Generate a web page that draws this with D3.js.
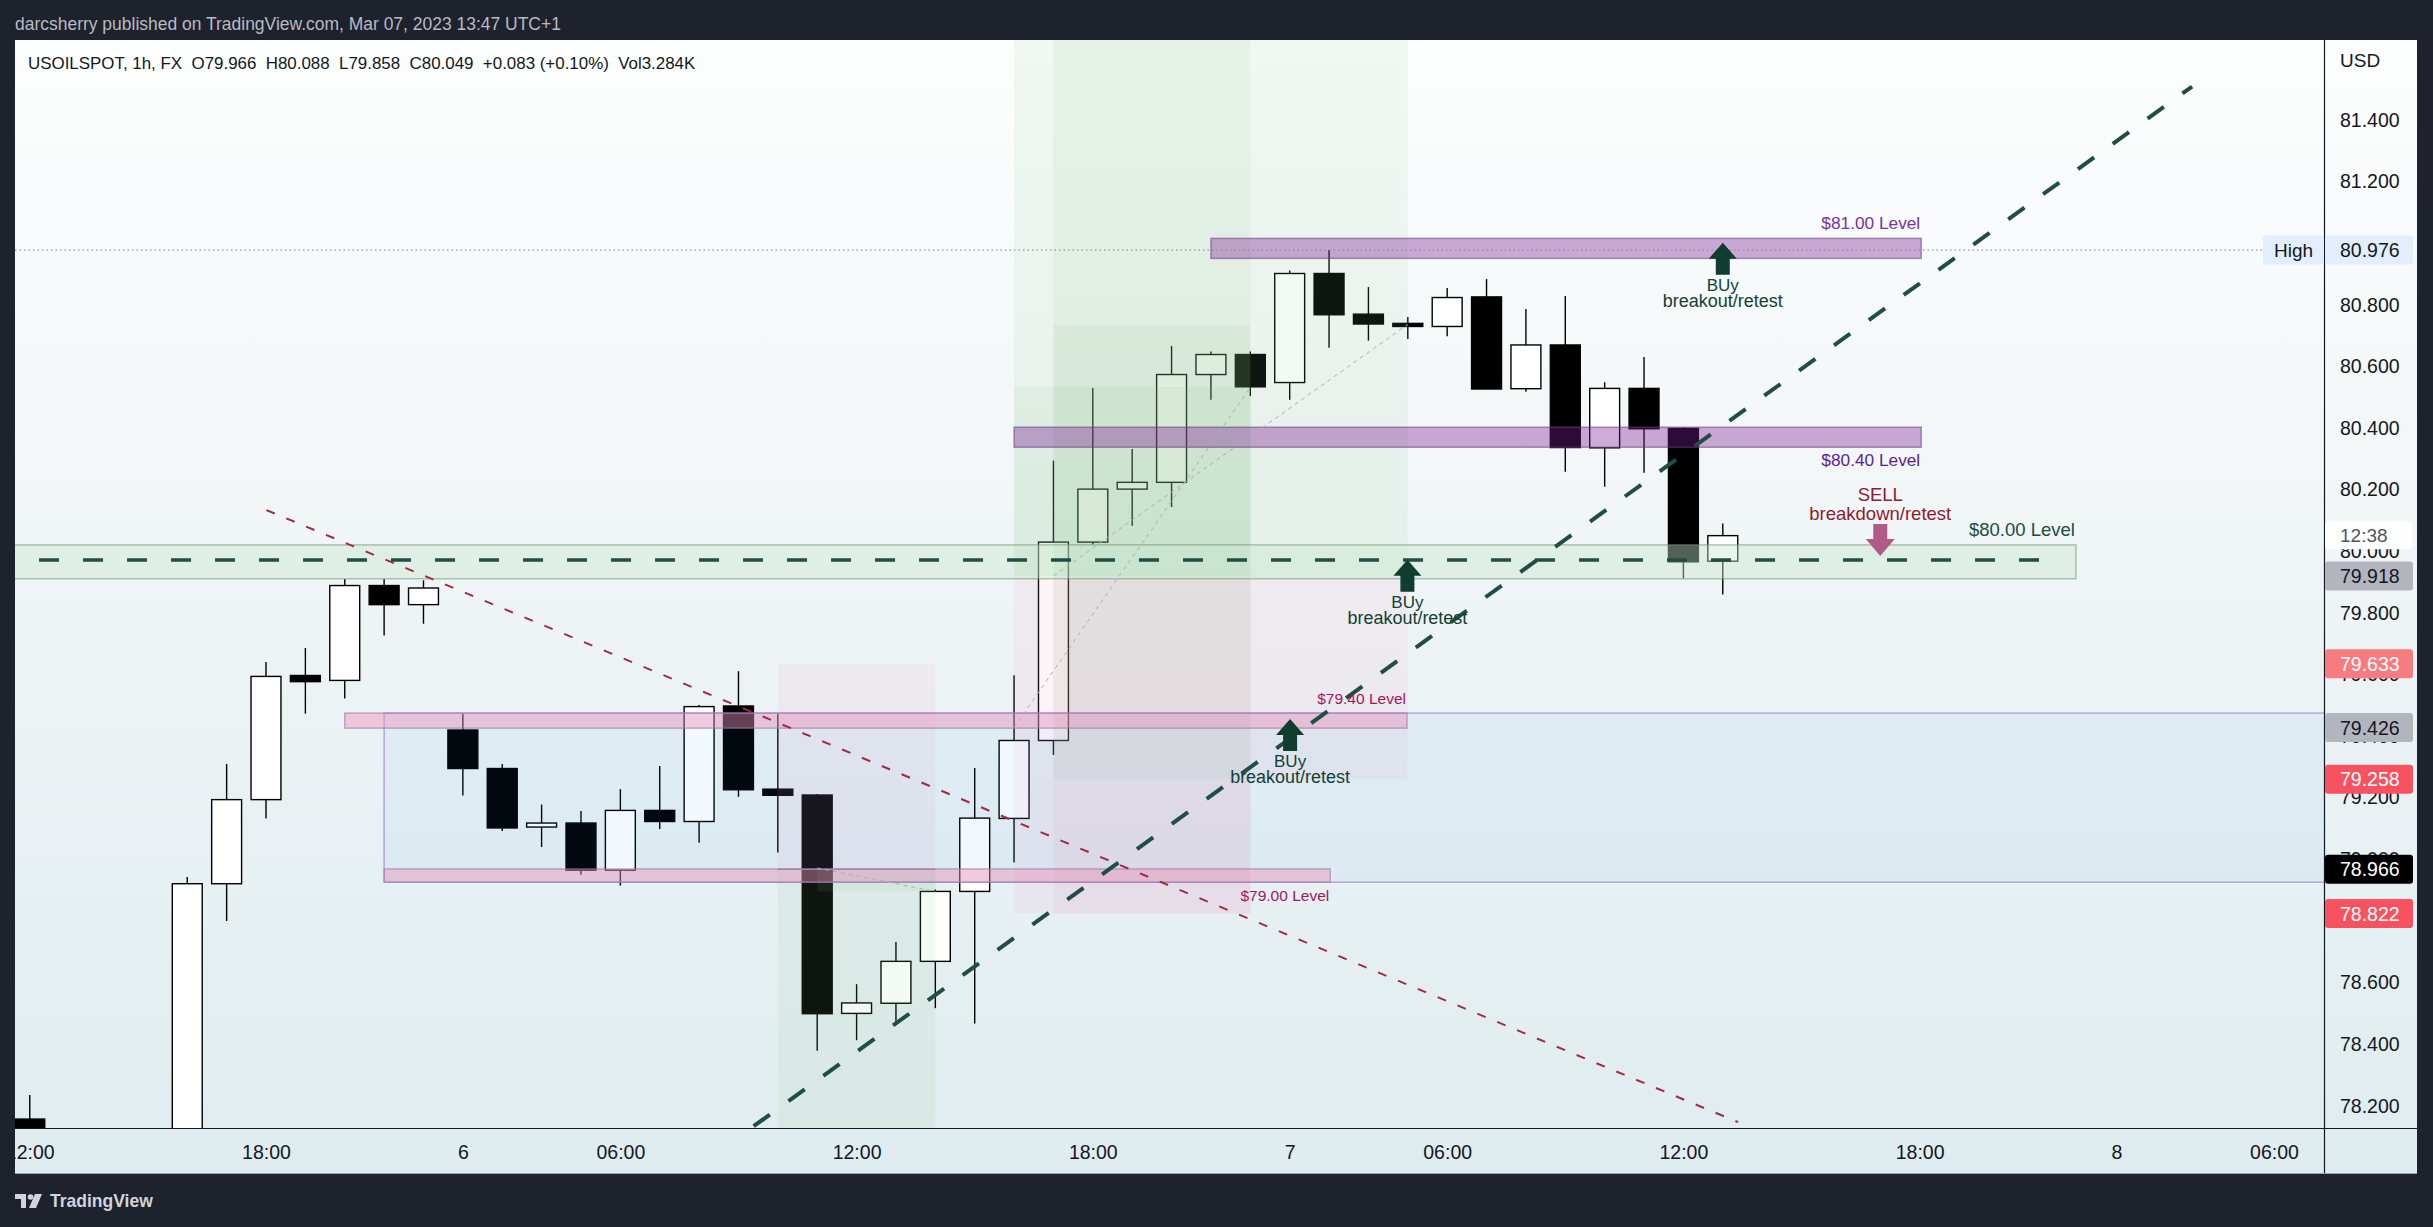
<!DOCTYPE html>
<html><head><meta charset="utf-8">
<script src="https://cdn.jsdelivr.net/npm/d3@7"></script>
<style>
html,body{margin:0;padding:0;background:#1e222d;overflow:hidden}
svg{display:block}
text{font-family:"Liberation Sans",Arial,sans-serif}
</style></head><body>
<svg id="c" width="2433" height="1227"></svg>
<script>
// ================= DATA =================
const titleText = "darcsherry published on TradingView.com, Mar 07, 2023 13:47 UTC+1";
const symbolInfo = ["USOILSPOT", "1h", "FX"];
const lastOHLC = {o: "79.966", h: "80.088", l: "79.858", c: "80.049", chg: "+0.083", pct: "(+0.10%)", vol: "3.284K"};

// bar slot index (0 = Mar 5 18:00); hourly bars
const barIdx = [-6,-2,-1,0,1,2,3,4,5,6,7,8,9,10,11,12,13,14,15,16,17,18,19,20,21,22,23,24,25,26,27,28,29,30,31,32,33,34,35,36,37];
const openP  = [78.155,77.90,78.919,79.192,79.595,79.579,79.887,79.825,79.418,79.293,79.103,79.116,78.963,79.157,79.121,79.496,79.226,79.207,78.498,78.531,78.667,78.894,79.131,79.384,80.028,80.200,80.222,80.572,80.637,80.546,80.900,80.768,80.738,80.728,80.824,80.526,80.668,80.334,80.527,80.397,79.966];
const highP  = [78.233,78.941,79.308,79.639,79.684,79.908,79.908,79.904,79.471,79.308,79.176,79.155,79.226,79.301,79.499,79.609,79.471,79.210,78.593,78.730,78.900,79.295,79.596,80.293,80.528,80.330,80.665,80.647,80.647,80.910,80.976,80.856,80.759,80.853,80.882,80.785,80.827,80.547,80.629,80.400,80.088];
const lowP   = [77.95,77.85,78.798,79.131,79.471,79.520,79.725,79.763,79.205,79.090,79.038,78.948,78.913,79.097,79.052,79.201,79.020,78.377,78.411,78.460,78.515,78.465,78.988,79.337,80.020,80.081,80.142,80.490,80.502,80.490,80.659,80.682,80.687,80.696,80.525,80.516,80.256,80.208,80.253,79.910,79.858];
const closeP = [78.00,78.919,79.192,79.592,79.575,79.887,79.825,79.879,79.293,79.100,79.116,78.963,79.157,79.121,79.494,79.224,79.206,78.497,78.532,78.667,78.894,79.132,79.384,80.028,80.200,80.222,80.572,80.637,80.532,80.900,80.766,80.736,80.728,80.822,80.525,80.668,80.335,80.527,80.396,79.964,80.049];

const timeTickIdx = [-6,0,5,9,15,21,26,30,36,42,47,51];
const timeTickLabels = ["12:00","18:00","6","06:00","12:00","18:00","7","06:00","12:00","18:00","8","06:00"];
const priceTicks = [78.2,78.4,78.6,78.8,79.0,79.2,79.4,79.6,79.8,80.0,80.2,80.4,80.6,80.8,81.0,81.2,81.4];

// horizontal level zones
const levelNames = ["$81.00 Level","$80.40 Level","$80.00 Level","$79.40 Level","$79.00 Level"];
const levelHi    = [81.014,80.401,80.019,79.473,78.967];
const levelLo    = [80.949,80.336,79.909,79.424,78.924];
const levelFrom  = [24,19,-8,2,3];
const levelTo    = [42.04,42.04,45.97,28.98,27.03];
const levelKind  = ["purple","purple","green","pink","pink"];
const levelLabelSide = ["above","below","above","above","below"];

// range box (blue) between the two pink levels
const rangeBox = {from: 3, to: 60, hi: 79.473, lo: 78.924};
const centreLine = {price: 79.970, from: -8, to: 45.57};

// trend lines [barIdx, price]
const greenTrend = [[11.5,78.05],[48.92,81.507]];
const redTrend   = [[0.01,80.132],[37.39,78.145]];
const guideLines = [[[19,79.426],[25,80.53]], [[20,79.918],[29,80.735]], [[14,78.97],[17,78.894]]];

// position tool zones
const zoneFrom = [19,20,19,20,19,20,20,20,13,13,14];
const zoneTo   = [25,29,25,25,25,29,25,25,17,17,17];
const zoneHi   = [82.5,82.5,80.532,80.73,79.918,79.918,79.918,79.258,79.633,78.966,78.966];
const zoneLo   = [79.918,79.918,79.918,79.918,78.822,79.258,79.258,78.822,78.966,77.0,78.894];
const zoneKind = ["profit","profit","profit","profit","stop","stop","profit","stop","stop","profit","profit"];
const shortEntry = {from: 13, to: 17, price: 78.966};

// notes
const buyIdx = [28.99, 26.01, 37.0];
const buyTip = [79.971, 79.454, 81.0];
const buyLines = ["BUy","breakout/retest"];
const sellIdx = 41.0, sellTip = 79.983;
const sellLines = ["SELL","breakdown/retest"];

const highPrice = 80.976;
const axisMarkPrices = [79.918,79.633,79.426,79.258,78.966,78.822];
const axisMarkKinds  = ["gray","lightred","gray","red","black","red"];
const countdown = "12:38";
const currentPrice = 80.049;

// ================= DRAW =================
const W = 2433, H = 1227;
const plot = {l: 15, r: 2324, t: 40, b: 1128};
const panel = {l: 15, r: 2417, t: 40, b: 1174};
const x = d3.scaleLinear().domain([-6.375, 52.27]).range([plot.l, plot.r]);
const y = d3.scaleLinear().domain([78.126, 81.658]).range([plot.b, plot.t]);
const FONT = '"Liberation Sans",Arial,sans-serif';

const svg = d3.select("#c");
const defs = svg.append("defs");
const grad = defs.append("linearGradient").attr("id","bg").attr("x1",0).attr("y1",0).attr("x2",0).attr("y2",1);
grad.append("stop").attr("offset","0%").attr("stop-color","#fdfefe");
grad.append("stop").attr("offset","55%").attr("stop-color","#edf3f5");
grad.append("stop").attr("offset","100%").attr("stop-color","#dfecef");
defs.append("clipPath").attr("id","pc").append("rect")
  .attr("x",plot.l).attr("y",plot.t).attr("width",plot.r-plot.l).attr("height",plot.b-plot.t);
defs.append("clipPath").attr("id","tc").append("rect")
  .attr("x",plot.l).attr("y",plot.b).attr("width",plot.r-plot.l).attr("height",panel.b-plot.b);

svg.append("rect").attr("width",W).attr("height",H).attr("fill","#1e222d");
svg.append("rect").attr("x",panel.l).attr("y",panel.t).attr("width",panel.r-panel.l)
  .attr("height",panel.b-panel.t).attr("fill","url(#bg)");

function fit(sel, target){
  const w = sel.node().getComputedTextLength();
  const fs = parseFloat(sel.attr("font-size"));
  if (w > 0) sel.attr("font-size", fs*target/w);
  return sel;
}

// title
fit(svg.append("text").attr("x",15).attr("y",24).attr("dominant-baseline","central")
  .attr("font-size",16).attr("fill","#b8bbc3").text(titleText), 546);

const g = svg.append("g").attr("clip-path","url(#pc)");

// candles
const bw = (x(1)-x(0))*0.76;
const candles = barIdx.map((b,i)=>({b, o:openP[i], h:highP[i], l:lowP[i], c:closeP[i]}));
const cg = g.append("g");
cg.selectAll("line.w").data(candles).join("line")
  .attr("x1",d=>x(d.b)).attr("x2",d=>x(d.b)).attr("y1",d=>y(d.h)).attr("y2",d=>y(d.l))
  .attr("stroke","#000").attr("stroke-width",1.4);
cg.selectAll("rect.b").data(candles).join("rect")
  .attr("x",d=>x(d.b)-bw/2).attr("width",bw)
  .attr("y",d=>y(Math.max(d.o,d.c)))
  .attr("height",d=>Math.max(2,Math.abs(y(d.o)-y(d.c))))
  .attr("fill",d=>d.c>=d.o?"#ffffff":"#000000")
  .attr("stroke","#000").attr("stroke-width",1.4);

// position tool zones
const zoneFill = {profit:"rgba(140,195,140,0.10)", stop:"rgba(240,150,185,0.10)"};
const zg = g.append("g");
zoneFrom.forEach((f,i)=>{
  zg.append("rect").attr("x",x(f)).attr("width",x(zoneTo[i])-x(f))
    .attr("y",y(zoneHi[i])).attr("height",y(zoneLo[i])-y(zoneHi[i]))
    .attr("fill",zoneFill[zoneKind[i]]);
});
zg.append("line").attr("x1",x(shortEntry.from)).attr("x2",x(shortEntry.to))
  .attr("y1",y(shortEntry.price)).attr("y2",y(shortEntry.price))
  .attr("stroke","#8a8d90").attr("stroke-width",1.5);

// range box
g.append("rect").attr("x",x(rangeBox.from)).attr("width",x(rangeBox.to)-x(rangeBox.from))
  .attr("y",y(rangeBox.hi)).attr("height",y(rangeBox.lo)-y(rangeBox.hi))
  .attr("fill","rgba(33,150,243,0.06)").attr("stroke","rgba(149,117,205,0.6)").attr("stroke-width",1.5);

// level zones
const levelStyle = {
  purple:{fill:"rgba(124,27,146,0.37)", stroke:"rgba(110,60,140,0.55)"},
  green:{fill:"rgba(200,230,205,0.42)", stroke:"rgba(120,150,125,0.55)"},
  pink:{fill:"rgba(235,140,178,0.42)", stroke:"rgba(160,120,175,0.6)"}
};
levelNames.forEach((n,i)=>{
  const s = levelStyle[levelKind[i]];
  g.append("rect").attr("x",x(levelFrom[i])).attr("width",x(levelTo[i])-x(levelFrom[i]))
    .attr("y",y(levelHi[i])).attr("height",y(levelLo[i])-y(levelHi[i]))
    .attr("fill",s.fill).attr("stroke",s.stroke).attr("stroke-width",1.5);
});

// high dotted line
g.append("line").attr("x1",plot.l).attr("x2",plot.r).attr("y1",y(highPrice)).attr("y2",y(highPrice))
  .attr("stroke","#7d8087").attr("stroke-width",1).attr("stroke-dasharray","1.5 3");

const line = d3.line().x(d=>x(d[0])).y(d=>y(d[1]));
// guide lines
guideLines.forEach(l=>{
  g.append("path").attr("d",line(l)).attr("fill","none").attr("stroke","#a9b1b3")
    .attr("stroke-width",1).attr("stroke-dasharray","4 4");
});
// red trend
g.append("path").attr("d",line(redTrend)).attr("fill","none").attr("stroke","#a02c40")
  .attr("stroke-width",2).attr("stroke-dasharray","9 12.5");
// centre dashed line
g.append("path").attr("d",line([[centreLine.from,centreLine.price],[centreLine.to,centreLine.price]]))
  .attr("fill","none").attr("stroke","#1f4e45").attr("stroke-width",3.6).attr("stroke-dasharray","20 24");
// green trend
g.append("path").attr("d",line(greenTrend)).attr("fill","none").attr("stroke","#1f4e45")
  .attr("stroke-width",4).attr("stroke-dasharray","20 23");

// level labels
const levelColors = ["#7b2fa0","#5b1e90","#1b4d3e","#a3165a","#a3165a"];
const levelWidths = [99,99,106,89,89];
levelNames.forEach((n,i)=>{
  const yy = levelLabelSide[i]==="above" ? y(levelHi[i]) - 15 : y(levelLo[i]) + 13;
  const t = g.append("text").attr("x",x(levelTo[i])-1).attr("y",yy).attr("text-anchor","end")
    .attr("dominant-baseline","central").attr("font-size",17).attr("fill",levelColors[i]).text(n);
  fit(t, levelWidths[i]);
});

// arrows + notes
function upArrow(cx, ty){
  return `M${cx},${ty} L${cx+14},${ty+16} L${cx+7},${ty+16} L${cx+7},${ty+32} L${cx-7},${ty+32} L${cx-7},${ty+16} L${cx-14},${ty+16} Z`;
}
function downArrow(cx, ty){
  return `M${cx},${ty} L${cx+14.5},${ty-17} L${cx+7},${ty-17} L${cx+7},${ty-32} L${cx-7},${ty-32} L${cx-7},${ty-17} L${cx-14.5},${ty-17} Z`;
}
buyIdx.forEach((b,i)=>{
  const cx = x(b), ty = y(buyTip[i]);
  g.append("path").attr("d",upArrow(cx,ty)).attr("fill","#0f3d30");
  g.append("text").attr("x",cx).attr("y",ty+43).attr("text-anchor","middle").attr("dominant-baseline","central")
    .attr("font-size",17).attr("fill","#143f33").text(buyLines[0]);
  fit(g.append("text").attr("x",cx).attr("y",ty+58.5).attr("text-anchor","middle").attr("dominant-baseline","central")
    .attr("font-size",17).attr("fill","#143f33").text(buyLines[1]), 120);
});
{
  const cx = x(sellIdx), ty = y(sellTip);
  g.append("path").attr("d",downArrow(cx,ty)).attr("fill","#b05a86");
  g.append("text").attr("x",cx).attr("y",ty-61).attr("text-anchor","middle").attr("dominant-baseline","central")
    .attr("font-size",18.5).attr("fill","#8e1b2e").text(sellLines[0]);
  fit(g.append("text").attr("x",cx).attr("y",ty-42.5).attr("text-anchor","middle").attr("dominant-baseline","central")
    .attr("font-size",18).attr("fill","#8e1b2e").text(sellLines[1]), 142);
}

// legend row
fit(svg.append("text").attr("x",28).attr("y",63).attr("dominant-baseline","central").attr("font-size",16)
  .attr("fill","#131722").style("white-space","pre")
  .text(`${symbolInfo[0]}, ${symbolInfo[1]}, ${symbolInfo[2]}  O${lastOHLC.o}  H${lastOHLC.h}  L${lastOHLC.l}  C${lastOHLC.c}  ${lastOHLC.chg} ${lastOHLC.pct}  Vol${lastOHLC.vol}`), 668);

// axes frame
svg.append("line").attr("x1",panel.l).attr("x2",panel.r).attr("y1",plot.b+0.5).attr("y2",plot.b+0.5).attr("stroke","#131722").attr("stroke-width",1.2);
svg.append("line").attr("x1",plot.r+0.5).attr("x2",plot.r+0.5).attr("y1",panel.t).attr("y2",panel.b).attr("stroke","#131722").attr("stroke-width",1.2);
svg.append("line").attr("x1",panel.l).attr("x2",panel.r).attr("y1",panel.b-0.5).attr("y2",panel.b-0.5).attr("stroke","#9aa3ad").attr("stroke-width",1);

// price axis
const yAxis = d3.axisRight(y).tickValues(priceTicks).tickFormat(d3.format(".3f")).tickSize(0).tickPadding(16);
const ya = svg.append("g").attr("transform",`translate(${plot.r},0)`).call(yAxis);
ya.select(".domain").remove();
ya.selectAll("text").attr("font-size",19.5).attr("fill","#131722").attr("font-family",FONT).attr("dy","0.35em");
svg.append("text").attr("x",plot.r+16).attr("y",60).attr("dominant-baseline","central")
  .attr("font-size",19).attr("fill","#131722").text("USD");

// time axis
const xAxis = d3.axisBottom(x).tickValues(timeTickIdx).tickFormat((d,i)=>timeTickLabels[i]).tickSize(0);
const xa = svg.append("g").attr("clip-path","url(#tc)").append("g").attr("transform",`translate(0,${plot.b})`).call(xAxis);
xa.select(".domain").remove();
xa.selectAll("text").attr("font-size",19.5).attr("fill","#131722").attr("font-family",FONT)
  .attr("y",24).attr("dy","0.35em");

// axis marks
const markStyle = {gray:["#b2b5be","#131722"], lightred:["#f77c80","#ffffff"], red:["#f7525f","#ffffff"], black:["#000000","#ffffff"]};
function axisLabel(p, bg, fg, txt){
  const yy = y(p);
  svg.append("rect").attr("x",plot.r+1).attr("y",yy-14.5).attr("width",88).attr("height",29).attr("rx",3).attr("fill",bg);
  svg.append("text").attr("x",plot.r+16).attr("y",yy).attr("dominant-baseline","central")
    .attr("font-size",19.5).attr("fill",fg).text(txt);
}
axisMarkPrices.forEach((p,i)=>{
  const s = markStyle[axisMarkKinds[i]];
  axisLabel(p, s[0], s[1], d3.format(".3f")(p));
});
// high label
axisLabel(highPrice, "#e3eefc", "#131722", d3.format(".3f")(highPrice));
svg.append("rect").attr("x",2263).attr("y",y(highPrice)-14.5).attr("width",plot.r-2263).attr("height",29).attr("rx",3).attr("fill","#e3eefc");
svg.append("text").attr("x",(2263+plot.r)/2).attr("y",y(highPrice)).attr("text-anchor","middle").attr("dominant-baseline","central")
  .attr("font-size",19).attr("fill","#131722").text("High");
// countdown label
svg.append("rect").attr("x",plot.r+1).attr("y",y(currentPrice)-14.5).attr("width",87).attr("height",28).attr("rx",3).attr("fill","#ffffff");
svg.append("text").attr("x",plot.r+16).attr("y",y(currentPrice)).attr("dominant-baseline","central")
  .attr("font-size",19).attr("fill","#50535e").text(countdown);

// TradingView logo
const lg = svg.append("g").attr("fill","#d1d4dc");
lg.append("path").attr("d","M15,1194 h11 v14 h-5 v-9 h-6 Z");
lg.append("circle").attr("cx",30.5).attr("cy",1197).attr("r",2.8);
lg.append("path").attr("d","M35,1194 h7 l-6,14 h-7 Z");
fit(lg.append("text").attr("x",50).attr("y",1201).attr("dominant-baseline","central")
  .attr("font-size",18).attr("font-weight",600).text("TradingView"), 103);
</script>
</body></html>
